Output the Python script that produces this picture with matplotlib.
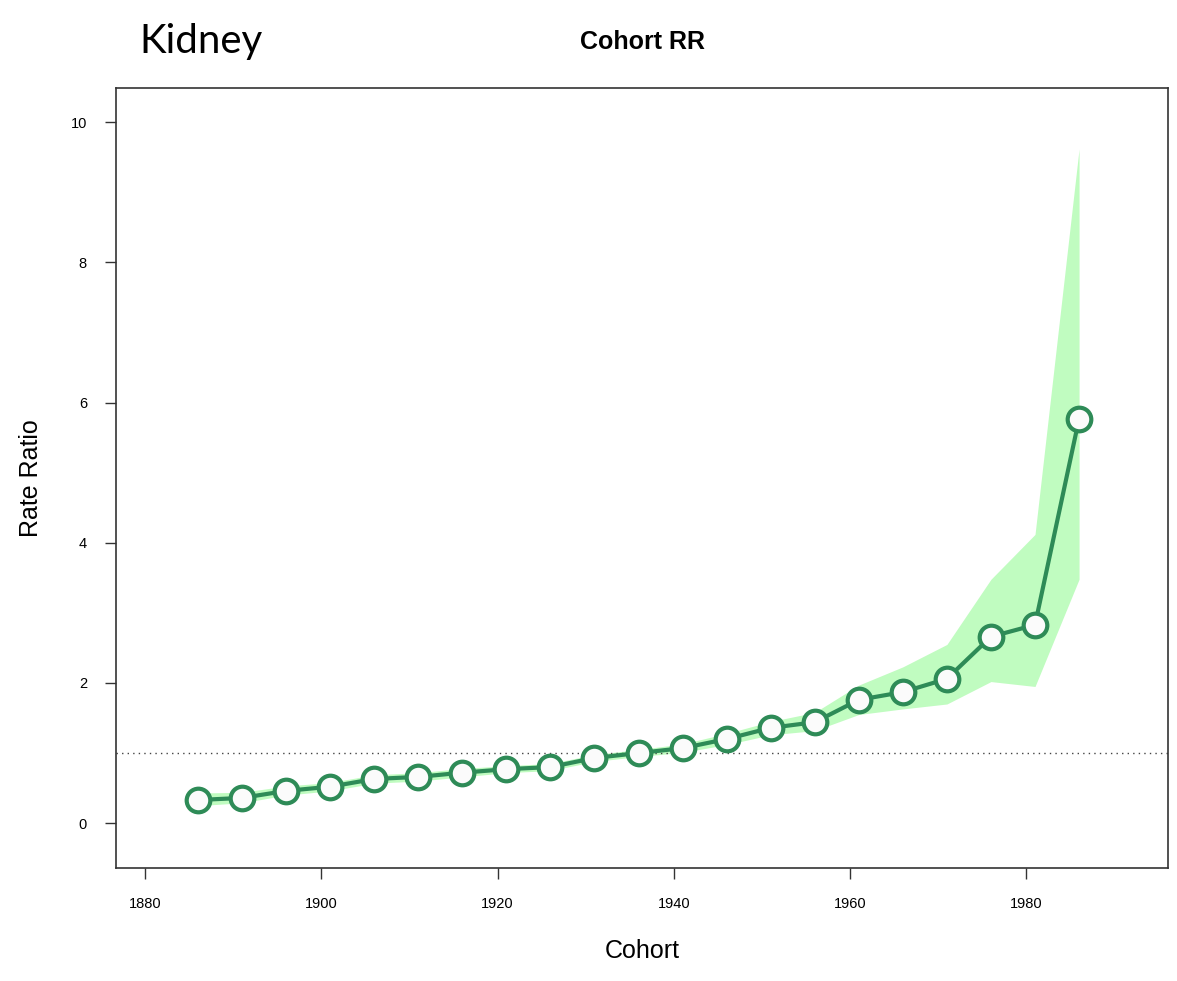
import matplotlib.pyplot as plt
import numpy as np

# cohort rate ratios
cohort = [1886, 1891, 1896, 1901, 1906, 1911, 1916, 1921, 1926, 1931, 1936,
          1941, 1946, 1951, 1956, 1961, 1966, 1971, 1976, 1981, 1986]
rr = [0.33, 0.36, 0.46, 0.52, 0.63, 0.66, 0.72, 0.77, 0.80, 0.93, 1.00,
      1.07, 1.20, 1.36, 1.44, 1.76, 1.87, 2.06, 2.66, 2.83, 5.77]
rr_upper = [0.43, 0.44, 0.53, 0.58, 0.69, 0.72, 0.78, 0.82, 0.85, 0.98, 1.05,
            1.13, 1.28, 1.45, 1.58, 1.97, 2.23, 2.55, 3.48, 4.12, 9.62]
rr_lower = [0.25, 0.29, 0.40, 0.46, 0.57, 0.60, 0.66, 0.72, 0.75, 0.88, 0.95,
            1.01, 1.12, 1.26, 1.32, 1.55, 1.63, 1.70, 2.02, 1.95, 3.48]

fig = plt.figure(figsize=(11.77, 9.81), dpi=100)
ax = fig.add_axes([0.0986, 0.1152, 0.8938, 0.7951])

ax.fill_between(cohort, rr_lower, rr_upper, color='#c0fcc0', lw=0, zorder=1)
ax.axhline(1, color='#444444', lw=1, ls=(0, (1, 3)), zorder=2)
ax.plot(cohort, rr, '-o', color='#2e8b57', lw=3, ms=17, mfc='#fbfbfb',
        mec='#2e8b57', mew=3, zorder=3)

ax.set_xlim(1876.7, 1996.1)
ax.set_ylim(-0.64, 10.49)
ax.set_xticks([1880, 1900, 1920, 1940, 1960, 1980])
ax.set_yticks([0, 2, 4, 6, 8, 10])
ax.tick_params(direction='out', length=8, width=1, color='#333333',
               labelsize=10.5, pad=13)
for s in ax.spines.values():
    s.set_color('#333333')
    s.set_linewidth(1.2)

ax.set_xlabel('Cohort', fontsize=18, family='Liberation Sans', labelpad=20)
ax.set_ylabel('Rate Ratio', fontsize=18, family='Liberation Sans', labelpad=20)
for lab in ax.get_xticklabels() + ax.get_yticklabels():
    lab.set_family('Liberation Sans')

fig.text(0.546, 0.957, 'Cohort RR', ha='center', va='center', fontsize=18,
         fontweight='bold', family='Liberation Sans')
fig.text(0.118, 0.958, 'Kidney', ha='left', va='center', fontsize=29,
         family='Lato')

fig.savefig('out.png', dpi=100)
